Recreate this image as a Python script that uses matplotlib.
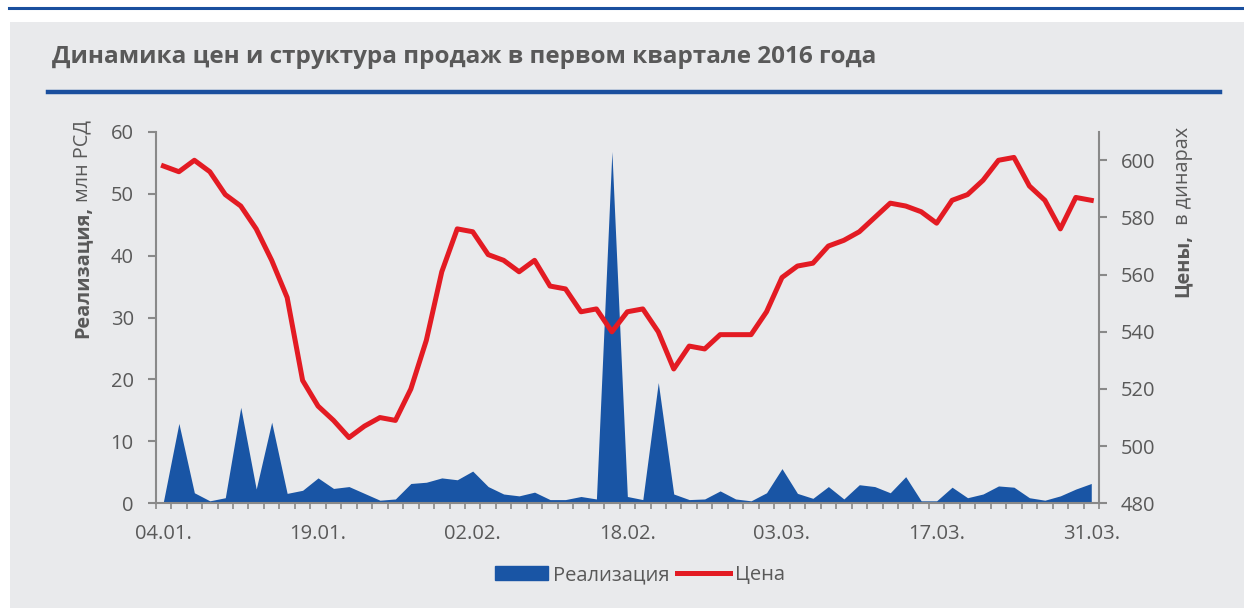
import matplotlib
matplotlib.use('Agg')
import matplotlib.pyplot as plt
import matplotlib.patches as mpatches
from matplotlib.lines import Line2D
import numpy as np

# data: 61 trading days, Q1 2016
SALES = [0.3, 12.9, 1.7, 0.4, 0.9, 15.5, 2.3, 13.1, 1.6, 2.1,
         4.1, 2.4, 2.7, 1.6, 0.5, 0.7, 3.2, 3.4, 4.1, 3.8,
         5.2, 2.7, 1.5, 1.2, 1.8, 0.6, 0.6, 1.1, 0.7, 56.8,
         1.1, 0.6, 19.5, 1.5, 0.6, 0.7, 2.0, 0.7, 0.4, 1.7,
         5.6, 1.6, 0.8, 2.7, 0.7, 3.0, 2.7, 1.7, 4.3, 0.4,
         0.4, 2.6, 0.9, 1.5, 2.8, 2.6, 0.9, 0.5, 1.2, 2.3,
         3.2]
PRICE = [598, 596, 600, 596, 588, 584, 576, 565, 552, 523,
         514, 509, 503, 507, 510, 509, 520, 537, 561, 576,
         575, 567, 565, 561, 565, 556, 555, 547, 548, 540,
         547, 548, 540, 527, 535, 534, 539, 539, 539, 547,
         559, 563, 564, 570, 572, 575, 580, 585, 584, 582,
         578, 586, 588, 593, 600, 601, 591, 586, 576, 587,
         586]
TICK_POS = [0, 10, 20, 30, 40, 50, 60]
TICK_LABELS = ['04.01.', '19.01.', '02.02.', '18.02.', '03.03.', '17.03.', '31.03.']

TITLE = 'Динамика цен и структура продаж в первом квартале 2016 года'

BLUE = '#1955a5'
DARKBLUE = '#1a4f9e'
RED = '#e31b23'
GRAYTXT = '#595959'
SPINE = '#898989'
PANEL = '#e9eaec'

plt.rcParams['font.family'] = ['Open Sans', 'DejaVu Sans']

W, H = 1244, 608
fig = plt.figure(figsize=(W / 100, H / 100), dpi=100, facecolor='white')

# gray panel + decorative blue rules
fig.patches.append(mpatches.Rectangle((10 / W, 0), 1, 1 - 22 / H, transform=fig.transFigure,
                                      facecolor=PANEL, edgecolor='none', zorder=-5))
fig.add_artist(Line2D([9 / W, 1], [1 - 7.5 / H] * 2, color=DARKBLUE, lw=2.2))
fig.add_artist(Line2D([48 / W, 1220 / W], [1 - 92 / H] * 2, color=DARKBLUE, lw=3.2))

fig.text(52 / W, 1 - 57 / H, TITLE, fontsize=17.5, fontweight='bold', color=GRAYTXT,
         ha='left', va='center')

ax = fig.add_axes([155.7 / W, 1 - 503.3 / H, (1099 - 155.7) / W, (503.3 - 131.7) / H])
ax.patch.set_visible(False)
x = np.arange(len(SALES))
ax.fill_between(x, SALES, color=BLUE, linewidth=0)
ax.set_xlim(-0.5, len(SALES) - 0.5)
ax.set_ylim(0, 60)
ax.set_yticks(range(0, 61, 10))

ax2 = ax.twinx()
ax2.plot(x, PRICE, color=RED, lw=3.6)
ax2.set_ylim(480, 610)
ax2.set_yticks(range(480, 601, 20))

for a in (ax, ax2):
    for s in a.spines.values():
        s.set_color(SPINE)
        s.set_linewidth(1.5)
    a.spines['top'].set_visible(False)
ax.spines['right'].set_visible(False)
ax2.spines['left'].set_visible(False)
ax2.spines['bottom'].set_visible(False)

ax.set_xticks(TICK_POS)
ax.set_xticklabels(TICK_LABELS)
ax.set_xticks(np.arange(-0.5, len(SALES), 1), minor=True)
ax.tick_params(axis='x', which='major', length=0, pad=15, labelsize=14.5, labelcolor=GRAYTXT)
ax.tick_params(axis='x', which='minor', length=4.5, width=1.2, color=SPINE, direction='out')
ax.tick_params(axis='y', length=5.8, width=1.5, color=SPINE, pad=10,
               labelsize=14.5, labelcolor=GRAYTXT)
ax2.tick_params(axis='y', length=5.8, width=1.5, color=SPINE, pad=10,
                labelsize=14.5, labelcolor=GRAYTXT)

# axis titles: bold word + regular rest, rotated
fig.canvas.draw()
r = fig.canvas.get_renderer()


def two_part_label(xc, ybot, bold, rest, size):
    t1 = fig.text(xc / W, 1 - ybot / H, bold, rotation=90, ha='center', va='bottom',
                  fontsize=size, fontweight='bold', color=GRAYTXT)
    bb = t1.get_window_extent(r)
    fig.text(xc / W, (bb.y1 + 4) / H, rest, rotation=90, ha='center', va='bottom',
             fontsize=size, color=GRAYTXT)


two_part_label(82, 338, 'Реализация,', 'млн РСД', 14.3)
two_part_label(1183, 297, 'Цены,', ' в динарах', 14.3)

handles = [mpatches.Patch(color=BLUE, label='Реализация'),
           Line2D([], [], color=RED, lw=3.6, label='Цена')]
leg = fig.legend(handles=handles, loc='center', bbox_to_anchor=(640 / W, 1 - 575 / H), ncol=2,
                 frameon=False, fontsize=14.5, handlelength=2.6, handletextpad=0.25,
                 columnspacing=0.4, labelcolor=GRAYTXT)

fig.savefig('out.png', dpi=100, facecolor='white')
